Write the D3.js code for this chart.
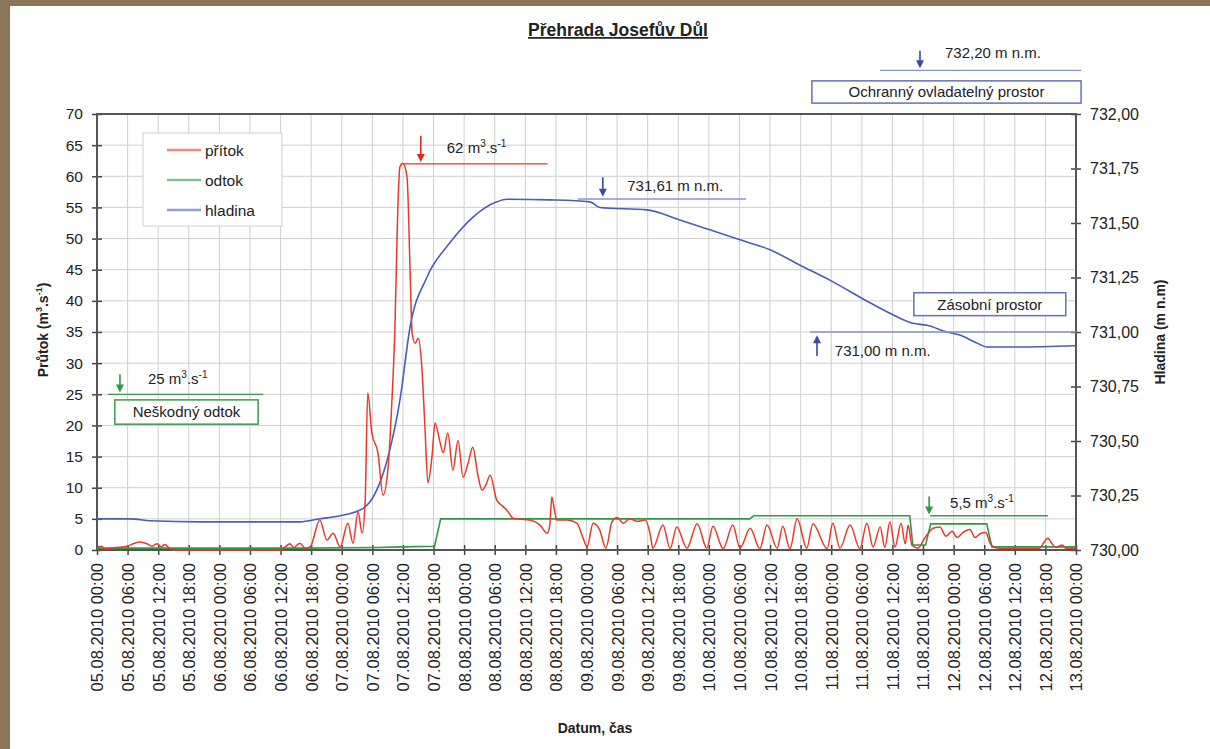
<!DOCTYPE html>
<html><head><meta charset="utf-8">
<script src="https://cdn.jsdelivr.net/npm/d3@7"></script>
<style>
html,body{margin:0;padding:0;background:#fff;}
text{font-family:"Liberation Sans",Arial,sans-serif;fill:#222;}
</style></head>
<body>
<svg id="c" width="1210" height="749"></svg>
<script>
// ---------- DATA ----------
const startDate = new Date(2010, 7, 5, 0, 0);
const endDate = new Date(2010, 7, 13, 0, 0);
// přítok [hours since 05.08.2010 00:00, m3/s]
const pritok = [[0,0.3],[0.8,0.6],[1.6,0.2],[2.5,0.3],[5.9,0.6],[7.1,1.0],[8.4,1.3],[9.8,1.0],[10.8,0.6],[11.8,1.0],[12.6,0.5],[13.3,0.9],[14.3,0.2],[16.3,0.0],[35.9,0.0],[36.9,0.5],[37.8,1.0],[38.6,0.4],[39.8,1.1],[40.8,0.3],[41.8,0.5],[43.7,4.8],[45.1,1.6],[46.3,2.7],[47.7,0.5],[49.2,4.3],[50.2,1.1],[51.2,6.1],[52.0,2.7],[52.6,8],[53.1,25.2],[53.9,18.8],[55.1,15.6],[56.1,8.8],[57.1,13.3],[57.9,25],[58.4,34.8],[59.0,55],[59.4,61.5],[60.0,62.1],[60.8,59.9],[61.4,45],[61.8,34.8],[62.4,33.2],[63.0,34],[63.7,29.4],[64.3,20],[64.9,10.8],[65.7,15],[66.3,20.4],[67.3,17.2],[67.9,15.6],[68.8,18.8],[69.8,12.8],[70.8,17.6],[71.8,11.7],[72.8,14],[73.7,16.5],[74.7,12],[75.5,9.6],[76.3,10.5],[77.1,12.0],[78.4,8.0],[79.6,7.0],[80.4,6.4],[81.6,5.1],[84.9,4.8],[86.9,4.0],[88.3,2.7],[88.8,4],[89.2,8.5],[89.8,6],[90.2,4.8],[92.2,4.8],[94.1,4.3],[95.3,2],[96.1,0.5],[97.3,4.3],[98.6,3.2],[99.8,0.3],[101.0,4.5],[102.0,5.2],[103.2,4.3],[104.5,5.0],[105.9,4.6],[107.5,4.8],[108.5,2.5],[109.0,0.3],[111.0,4.0],[112.4,0.2],[113.7,3.7],[115.7,0.3],[117.7,4.2],[119.6,0.3],[120.8,3.8],[122.8,0.2],[124.7,4.0],[126.1,0.3],[128.1,3.5],[130.0,0.2],[131.4,4.0],[133.4,0.3],[134.5,3.8],[135.9,0.2],[137.3,5.0],[139.2,0.3],[140.4,4.2],[143.2,0.2],[144.3,4.3],[145.7,0.3],[147.7,4.0],[149.6,0.2],[151.0,4.3],[152.2,0.5],[153.6,3.7],[154.5,0.4],[155.5,4.5],[156.5,0.5],[157.7,4.3],[158.5,1.0],[159.1,4.0],[159.8,0.8],[161.0,0.3],[162.4,2],[164.0,3.5],[165.3,3.7],[166.5,2.2],[167.7,3.0],[168.7,2.0],[169.8,2.8],[171.2,3.3],[172.2,2.0],[173.2,2.6],[174.3,2.8],[175.1,1.2],[176.1,0.4],[177.1,0.3],[184.9,0.3],[185.7,1.2],[186.5,1.9],[187.3,1.0],[188.1,0.4],[189.3,0.8],[190.0,0.3],[192,0.3]];
// odtok [hours, m3/s]
const odtok = [[0,0.3],[40,0.3],[55,0.4],[60,0.5],[66.2,0.6],[67.4,5.0],[128,5.0],[128.8,5.5],[159.4,5.5],[160,0.8],[162.5,0.8],[163.5,4.2],[174.5,4.2],[175.5,0.5],[192,0.5]];
// hladina [hours, m n.m.]
const hladina = [[0,730.143],[6.5,730.143],[10.4,730.134],[20.2,730.129],[39.8,730.129],[43.7,730.143],[47.7,730.157],[52.2,730.191],[54.5,730.257],[57.1,730.429],[59.4,730.686],[61.4,731.023],[64.7,731.251],[69.2,731.409],[73.7,731.526],[78.4,731.597],[80.4,731.609],[88.8,731.606],[96.7,731.597],[98.6,731.571],[107.9,731.56],[114.3,731.514],[120.2,731.469],[126.1,731.423],[132,731.377],[137.9,731.306],[143.8,731.237],[151.6,731.134],[155.5,731.086],[160,731.04],[162.8,731.031],[166.7,731.0],[169.2,730.986],[172.6,730.949],[174.5,730.931],[179,730.931],[192,730.937]];
const leftTicks = [0,5,10,15,20,25,30,35,40,45,50,55,60,65,70];
const rightTicks = [730.00,730.25,730.50,730.75,731.00,731.25,731.50,731.75,732.00];
const seriesNames = ["přítok","odtok","hladina"];
const seriesColors = ["#e8392b","#2f9945","#4a5cb6"];

// ---------- SETUP ----------
const svg = d3.select("#c");
svg.append("rect").attr("width",1210).attr("height",749).attr("fill","#8b7659");
svg.append("rect").attr("x",10).attr("y",6).attr("width",1200).attr("height",743).attr("fill","#fff");

const L=97, R=1076, T=114, B=550;
const hToDate = h => new Date(startDate.getTime()+h*3600e3);
const x = d3.scaleTime().domain([startDate,endDate]).range([L,R]);
const yL = d3.scaleLinear().domain([0,70]).range([B,T]);
const yR = d3.scaleLinear().domain([730,732]).range([B,T]);
const xTicks = d3.timeHour.every(6).range(startDate, d3.timeHour.offset(endDate,1));
const fmtX = d3.timeFormat("%d.%m.%Y %H:%M");

// grid
const grid = svg.append("g");
grid.selectAll("line.v").data(xTicks).join("line")
  .attr("x1",d=>x(d)).attr("x2",d=>x(d)).attr("y1",T).attr("y2",B)
  .attr("stroke","#cfcfcf").attr("stroke-width",1);
grid.selectAll("line.h").data(leftTicks).join("line")
  .attr("x1",L).attr("x2",R).attr("y1",d=>yL(d)).attr("y2",d=>yL(d))
  .attr("stroke","#cfcfcf").attr("stroke-width",1);

// axes
function styleAxis(g,fs){
  g.select(".domain").remove();
  g.selectAll(".tick line").attr("stroke","#444").attr("stroke-width",1.5);
  g.selectAll(".tick text").attr("font-size",fs).attr("fill","#2a2a2a");
}
const axL = svg.append("g").attr("transform",`translate(${L},0)`)
  .call(d3.axisLeft(yL).tickValues(leftTicks).tickSize(5).tickPadding(9));
styleAxis(axL,"15.5px"); axL.selectAll(".tick line").attr("x1",5);
const axR = svg.append("g").attr("transform",`translate(${R},0)`)
  .call(d3.axisRight(yR).tickValues(rightTicks).tickSize(5).tickPadding(9)
  .tickFormat(d=>d3.format(".2f")(d).replace(".",",")));
styleAxis(axR,"16px"); axR.selectAll(".tick line").attr("x1",-5);
const axB = svg.append("g").attr("transform",`translate(0,${B})`)
  .call(d3.axisBottom(x).tickValues(xTicks).tickSize(5).tickFormat(fmtX));
styleAxis(axB,"16.5px"); axB.selectAll(".tick line").attr("y1",-5);
axB.selectAll(".tick text").attr("transform","rotate(-90)")
  .attr("text-anchor","end").attr("x",-13).attr("y",0).attr("dy","0.36em");

// frame
svg.append("rect").attr("x",L).attr("y",T).attr("width",R-L).attr("height",B-T)
  .attr("fill","none").attr("stroke","#555").attr("stroke-width",2);

// lines
const lineL = d3.line().x(d=>x(hToDate(d[0]))).y(d=>yL(d[1])).curve(d3.curveMonotoneX);
const lineG = d3.line().x(d=>x(hToDate(d[0]))).y(d=>yL(d[1]));
const lineR = d3.line().x(d=>x(hToDate(d[0]))).y(d=>yR(d[1])).curve(d3.curveMonotoneX);
svg.append("path").datum(odtok).attr("d",lineG).attr("fill","none").attr("stroke",seriesColors[1]).attr("stroke-width",1.6);
svg.append("path").datum(hladina).attr("d",lineR).attr("fill","none").attr("stroke",seriesColors[2]).attr("stroke-width",1.6);
svg.append("path").datum(pritok).attr("d",lineL).attr("fill","none").attr("stroke",seriesColors[0]).attr("stroke-width",1.5);

// ---------- ANNOTATIONS ----------
const ann = svg.append("g");
function hline(h1,h2,yv,scale,col){
  ann.append("line").attr("x1",x(hToDate(h1))).attr("x2",x(hToDate(h2)))
    .attr("y1",scale(yv)).attr("y2",scale(yv)).attr("stroke",col).attr("stroke-width",1.3);
}
function arrow(h,y1,y2,col){
  const X=x(hToDate(h));
  const dir = y2>y1?1:-1;
  ann.append("line").attr("x1",X).attr("x2",X).attr("y1",y1).attr("y2",y2-dir*6).attr("stroke",col).attr("stroke-width",1.6);
  ann.append("path").attr("d",`M${X-4},${y2-dir*8}L${X+4},${y2-dir*8}L${X},${y2}Z`).attr("fill",col);
}
function label(h,yPix,main,sup1,mid,sup2){
  const t=ann.append("text").attr("x",x(hToDate(h))).attr("y",yPix).attr("font-size","15px");
  t.append("tspan").text(main);
  if(sup1){t.append("tspan").attr("font-size","10px").attr("dy",-6).text(sup1);
    t.append("tspan").attr("dy",6).text(mid);
    t.append("tspan").attr("font-size","10px").attr("dy",-6).text(sup2);}
}
function box(h1,h2,yTop,yBot,col,txt){
  const x1=x(hToDate(h1)), x2=x(hToDate(h2));
  ann.append("rect").attr("x",x1).attr("y",yTop).attr("width",x2-x1).attr("height",yBot-yTop)
    .attr("fill","#fff").attr("stroke",col).attr("stroke-width",1.5);
  ann.append("text").attr("x",(x1+x2)/2).attr("y",(yTop+yBot)/2).attr("dy","0.36em")
    .attr("text-anchor","middle").attr("font-size","15px").text(txt);
}
// 62 m3/s
hline(60.0,88.4,62,yL,"#e8392b");
arrow(63.5,yL(66.5),yL(62.3),"#e02a1c");
label(68.6,yL(63.8),"62 m","3",".s","-1");
// 731,61
hline(94.3,127.3,731.61,yR,"#8892cc");
arrow(99.2,yR(731.71),yR(731.62),"#3a4aa8");
label(104.0,yR(731.645),"731,61 m n.m.");
// 732,20
hline(153.6,193.0,732.2,yR,"#8892cc");
arrow(161.4,yR(732.29),yR(732.21),"#3a4aa8");
box(140.2,193.0,yR(732.152),yR(732.05),"#6470bb","Ochranný ovladatelný prostor");
label(166.3,yR(732.255),"732,20 m n.m.");
// Zásobní prostor
box(160.2,190.0,yR(731.18),yR(731.075),"#6470bb","Zásobní prostor");
// 731,00
hline(139.8,192,731.0,yR,"#8892cc");
arrow(141.2,yR(730.89),yR(730.985),"#3a4aa8");
label(144.7,yR(730.89),"731,00 m n.m.");
// 25 m3/s
hline(2.2,32.6,25,yL,"#3a9a4f");
arrow(4.5,yL(28.2),yL(25.3),"#2f9945");
label(10.0,yL(26.7),"25 m","3",".s","-1");
box(3.5,31.6,yL(24.1),yL(20.2),"#3a9a4f","Neškodný odtok");
// 5,5 m3/s
hline(163.4,186.5,5.5,yL,"#3a9a4f");
arrow(163.2,yL(8.6),yL(5.7),"#2f9945");
label(167.3,yL(6.8),"5,5 m","3",".s","-1");

// legend
const lg = svg.append("g");
lg.append("rect").attr("x",143).attr("y",133).attr("width",139).attr("height",93)
  .attr("fill","#fff").attr("stroke","#d0d0d0").attr("stroke-width",1);
seriesNames.forEach((n,i)=>{
  const yy=150+i*30;
  lg.append("line").attr("x1",167).attr("x2",201).attr("y1",yy).attr("y2",yy)
    .attr("stroke",seriesColors[i]).attr("stroke-opacity",0.6).attr("stroke-width",2.5);
  lg.append("text").attr("x",205).attr("y",yy).attr("dy","0.36em").attr("font-size","15.5px").text(n);
});

// titles
svg.append("text").attr("x",618).attr("y",36).attr("text-anchor","middle")
  .attr("font-size","17.5px").attr("font-weight","bold").attr("text-decoration","underline")
  .text("Přehrada Josefův Důl");
const yt = svg.append("text").attr("transform","translate(48,330) rotate(-90)")
  .attr("text-anchor","middle").attr("font-size","14px").attr("font-weight","bold");
yt.append("tspan").text("Průtok (m");
yt.append("tspan").attr("font-size","9px").attr("dy",-6).text("3");
yt.append("tspan").attr("dy",6).text(".s");
yt.append("tspan").attr("font-size","9px").attr("dy",-6).text("-1");
yt.append("tspan").attr("dy",6).text(")");
svg.append("text").attr("transform","translate(1165,332) rotate(-90)")
  .attr("text-anchor","middle").attr("font-size","14px").attr("font-weight","bold")
  .text("Hladina (m n.m)");
svg.append("text").attr("x",595).attr("y",733).attr("text-anchor","middle")
  .attr("font-size","14px").attr("font-weight","bold").text("Datum, čas");
</script>
</body></html>
